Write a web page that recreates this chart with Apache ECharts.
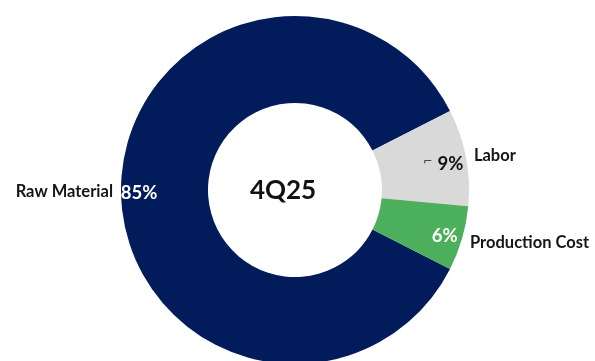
<!DOCTYPE html>
<html>
<head>
<meta charset="utf-8">
<script src="https://cdn.jsdelivr.net/npm/echarts@6/dist/echarts.min.js"></script>
<style>
  html, body { margin: 0; padding: 0; background: #fff; }
  #chart { width: 595px; height: 361px; }
</style>
</head>
<body>
<div id="chart"></div>
<script>
// Cost breakdown for the quarter
const periodLabel = '4Q25';
const categories = ['Raw Material', 'Labor', 'Production Cost'];
const shares = [85, 9, 6];
const sliceColors = ['#021B5B', '#D9D9D9', '#4CAF5C'];
const valueLabelColors = ['#FFFFFF', '#111111', '#FFFFFF'];

const FONT = 'Lato, "Open Sans", sans-serif';
const CENTER = [295, 190];

// Small per-slice nudges for the name and value labels
const nameOffsets = [[0, 2], [0, -1], [0, 4]];
const valueOffsets = [[0, 3], [-5, 3], [0, 3]];

const ringData = categories.map((name, i) => ({
  name,
  value: shares[i],
  itemStyle: { color: sliceColors[i] },
  label: { offset: nameOffsets[i] }
}));

// Transparent ring used only to place the percentage labels near the outer edge
const valueData = categories.map((name, i) => ({
  name,
  value: shares[i],
  label: { color: valueLabelColors[i], offset: valueOffsets[i] }
}));

const chart = echarts.init(document.getElementById('chart'), null, { renderer: 'canvas' });
chart.setOption({
  animation: false,
  backgroundColor: '#ffffff',
  title: {
    text: periodLabel,
    left: 278,
    top: 186,
    textAlign: 'center',
    textVerticalAlign: 'middle',
    textStyle: { fontFamily: FONT, fontSize: 26, fontWeight: 'bold', color: '#111111' }
  },
  series: [
    {
      type: 'pie',
      center: CENTER,
      radius: [87, 174],
      startAngle: 333,
      clockwise: true,
      silent: true,
      avoidLabelOverlap: false,
      label: {
        show: true,
        position: 'outside',
        formatter: '{b}',
        fontFamily: FONT,
        fontSize: 16.5,
        fontWeight: 'bold',
        color: '#161616'
      },
      labelLine: { show: false, length: 2, length2: 1 },
      data: ringData
    },
    {
      type: 'pie',
      center: CENTER,
      radius: [132, 174],
      startAngle: 333,
      clockwise: true,
      silent: true,
      itemStyle: { color: 'rgba(0,0,0,0)' },
      label: {
        show: true,
        position: 'inside',
        formatter: (p) => (p.name === 'Labor' ? '{mark|⌐}' : '') + p.value + '%',
        fontFamily: FONT,
        fontSize: 18.5,
        fontWeight: 'bold',
        rich: {
          mark: {
            fontFamily: '"DejaVu Sans", sans-serif',
            fontSize: 11,
            fontWeight: 'normal',
            color: '#111111',
            padding: [0, 5, 4, 0]
          }
        }
      },
      labelLine: { show: false },
      data: valueData
    }
  ]
});
</script>
</body>
</html>
